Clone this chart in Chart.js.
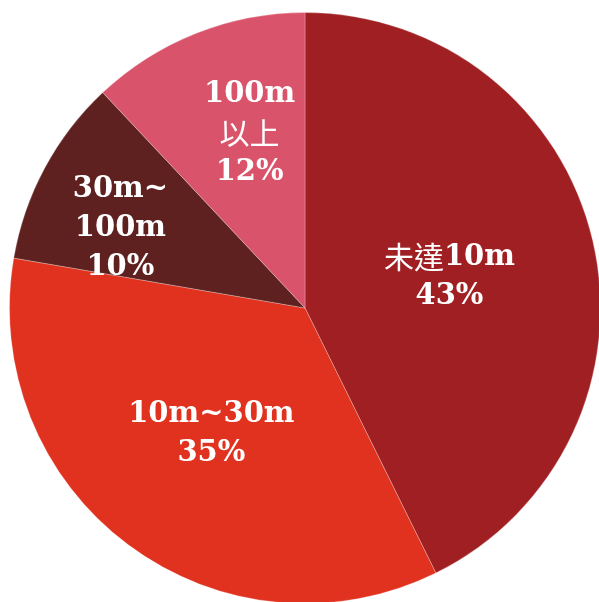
<!DOCTYPE html>
<html><head><meta charset="utf-8">
<script src="https://cdn.jsdelivr.net/npm/chart.js@4/dist/chart.umd.min.js"></script>
<style>
html,body{margin:0;padding:0;background:#fff;overflow:hidden;}
#wrap{position:absolute;left:0;top:0;width:620px;height:620px;}
</style></head>
<body>
<div id="wrap"><canvas id="c"></canvas></div>
<script>
const categories = ['未達10m', '10m~30m', '30m~100m', '100m以上'];
const shares = [42.7, 35.0, 10.3, 12.0];
const labelLines = [['未達10m'], ['10m~30m'], ['30m~', '100m'], ['100m', '以上']];
const colors = ['#A01F22', '#E0321E', '#5E2120', '#D9546B'];

const labelRadius = [0.50, 0.53, 0.68, 0.62];
const labelAngleShift = [1, 0, -5, 4];

function isCJK(ch){ return /[\u3000-\u9fff\uff00-\uffef]/.test(ch); }
function runs(str){
  const out=[]; let cur='', cj=null;
  for (const ch of str){ const c=isCJK(ch); if(cj===null||c===cj){cur+=ch;cj=c;} else {out.push([cur,cj]);cur=ch;cj=c;} }
  if(cur) out.push([cur,cj]);
  return out;
}
const latinFont = 'bold 29px "DejaVu Serif", "Liberation Serif", serif';
const cjkFont = '400 30px "Noto Sans CJK TC", "Noto Sans CJK JP", sans-serif';

const pieLabels = {
  id: 'pieLabels',
  afterDatasetsDraw(chart){
    const ctx = chart.ctx;
    const meta = chart.getDatasetMeta(0);
    meta.data.forEach((arc, i) => {
      const p = arc.getProps(['x','y','startAngle','endAngle','outerRadius'], true);
      const mid = (p.startAngle + p.endAngle)/2 + labelAngleShift[i]*Math.PI/180;
      const r = p.outerRadius * labelRadius[i];
      const cx = p.x + Math.cos(mid)*r, cy = p.y + Math.sin(mid)*r;
      const lines = labelLines[i].concat([Math.round(shares[i]) + '%']);
      const lh = 39;
      ctx.save();
      ctx.fillStyle = '#ffffff';
      ctx.textBaseline = 'middle';
      ctx.textAlign = 'left';
      lines.forEach((ln, k) => {
        const y = cy + (k - (lines.length-1)/2)*lh;
        const rs = runs(ln);
        let w = 0;
        rs.forEach(([t,c]) => { ctx.font = c?cjkFont:latinFont; w += ctx.measureText(t).width; });
        let x = cx - w/2;
        rs.forEach(([t,c]) => { ctx.font = c?cjkFont:latinFont; ctx.fillText(t, x, y + (c?-1:0)); x += ctx.measureText(t).width; });
      });
      ctx.restore();
    });
  }
};

new Chart(document.getElementById('c'), {
  type: 'pie',
  data: {
    labels: categories,
    datasets: [{
      data: shares,
      backgroundColor: colors,
      borderColor: 'rgba(255,255,255,0.25)',
      borderWidth: 1
    }]
  },
  options: {
    responsive: true,
    maintainAspectRatio: false,
    animation: false,
    layout: { padding: { left: 9, top: 12, right: 19, bottom: 16 } },
    plugins: { legend: { display: false }, tooltip: { enabled: false } }
  },
  plugins: [pieLabels]
});
</script>
</body></html>
